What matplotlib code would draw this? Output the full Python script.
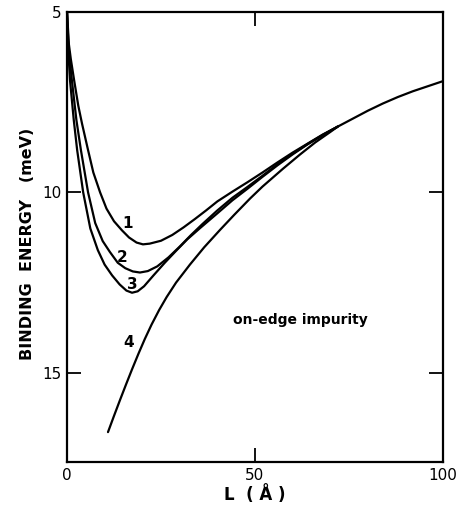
import matplotlib
matplotlib.use('Agg')
import matplotlib.pyplot as plt

# curve 1
L1 = [0, 0.5, 1, 1.9, 3, 4, 5.6, 7, 8.8, 10.5, 12.5, 14.6, 16.5, 18.5, 20.2, 22, 25, 28, 31,
      34, 37, 40, 44, 48, 52, 56, 60, 64, 68, 72, 76, 80, 84, 88, 92, 96, 100]
E1 = [5.0, 5.9, 6.3, 6.9, 7.6, 8.1, 8.83, 9.45, 10.0, 10.45, 10.8, 11.05, 11.25, 11.39, 11.44,
      11.42, 11.34, 11.18, 10.97, 10.74, 10.5, 10.25, 9.98, 9.72, 9.45, 9.17, 8.9, 8.65, 8.4,
      8.18, 7.96, 7.74, 7.54, 7.36, 7.2, 7.06, 6.92]
# curve 2
L2 = [0, 0.4, 1.3, 2.5, 3.7, 5.6, 7.5, 9.5, 11.4, 13.5, 15.5, 17.5, 19.4, 21.5, 24, 27, 30,
      33, 36, 40, 44, 48, 52, 56, 60, 64, 68, 72]
E2 = [5.0, 6.0, 6.9, 8.0, 8.83, 10.0, 10.85, 11.35, 11.65, 11.95, 12.1, 12.19, 12.22, 12.18,
      12.05, 11.8, 11.5, 11.18, 10.88, 10.5, 10.15, 9.85, 9.54, 9.22, 8.93, 8.66, 8.41, 8.18]
# curve 3
L3 = [0, 0.3, 0.8, 1.8, 2.7, 4.3, 6.2, 8.2, 10, 12, 14, 15.8, 17.3, 18.8, 20.5, 23, 26, 29,
      32, 35.5, 40, 44, 48, 52, 56, 60, 64, 68, 72]
E3 = [5.0, 6.0, 6.9, 8.0, 8.83, 10.0, 11.0, 11.6, 12.0, 12.3, 12.55, 12.72, 12.78, 12.74,
      12.6, 12.3, 11.95, 11.62, 11.3, 10.98, 10.58, 10.22, 9.9, 9.57, 9.25, 8.95, 8.67, 8.42, 8.18]
# curve 4
L4 = [10.9, 12.5, 14.1, 15.7, 17.3, 19, 20.7, 22.5, 24.5, 26.5, 29, 32.7, 36.5, 40.7, 44.5,
      48.7, 52, 57.4, 62, 66, 70, 72]
E4 = [16.64, 16.19, 15.75, 15.32, 14.9, 14.47, 14.06, 13.66, 13.26, 12.9, 12.5, 12.0, 11.52,
      11.04, 10.62, 10.17, 9.84, 9.35, 8.95, 8.62, 8.33, 8.18]

curve_labels = ['1', '2', '3', '4']
label_pos = [(16, 10.85), (14.6, 11.8), (17.3, 12.56), (16.4, 14.17)]

fig = plt.figure(figsize=(4.59, 5.14), dpi=100)
ax = fig.add_axes([0.146, 0.101, 0.819, 0.876])

for L, E in [(L1, E1), (L2, E2), (L3, E3), (L4, E4)]:
    ax.plot(L, E, color='black', lw=1.6, solid_capstyle='round')

for lab, (x, y) in zip(curve_labels, label_pos):
    ax.text(x, y, lab, fontsize=11, fontweight='bold', ha='center', va='center')

ax.text(62, 13.53, 'on-edge impurity', fontsize=10, fontweight='bold', ha='center', va='center')

ax.set_xlim(0, 100)
ax.set_ylim(17.47, 5)
ax.set_xticks([0, 50, 100])
ax.set_yticks([5, 10, 15])
ax.tick_params(direction='in', length=10, width=1.3, top=True, right=True,
               labelsize=11, pad=4)
for s in ax.spines.values():
    s.set_linewidth(1.6)

ax.set_xlabel('L  ( Å )', fontsize=12, fontweight='bold', labelpad=2)
fig.text(0.061, 0.525, 'BINDING  ENERGY   (meV)', rotation=90, fontsize=11.5,
         fontweight='bold', ha='center', va='center')

fig.savefig('out.png', dpi=100)
